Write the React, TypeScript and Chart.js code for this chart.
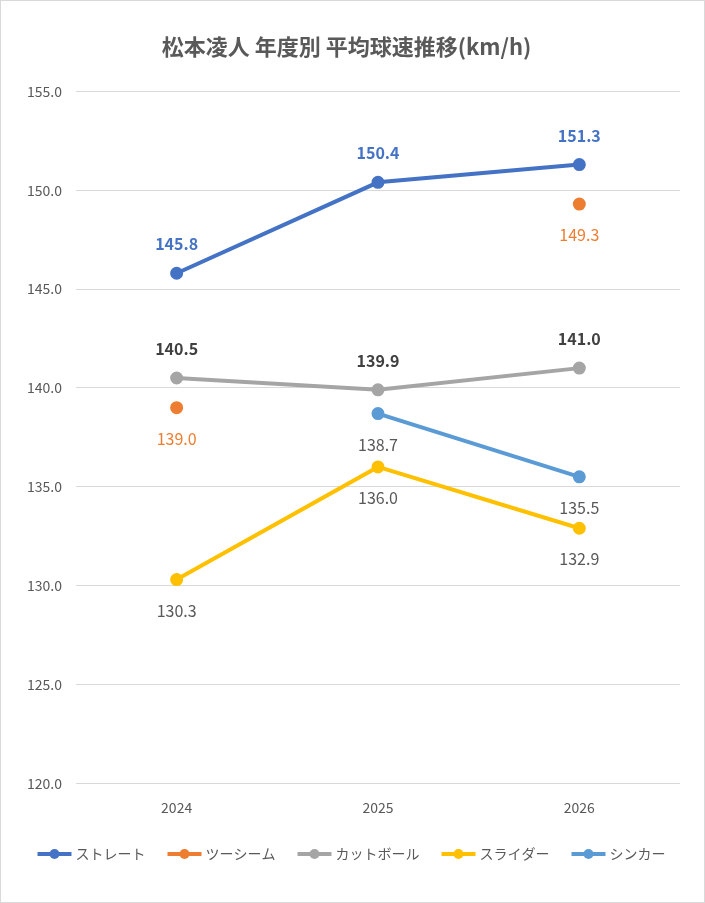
import React, { useEffect, useRef } from "react";
import { Chart, registerables } from "chart.js";
Chart.register(...registerables);

const years = ["2024", "2025", "2026"];
const straight = [145.8, 150.4, 151.3];
const twoSeam = [139.0, null, 149.3];
const cutter = [140.5, 139.9, 141.0];
const slider = [130.3, 136.0, 132.9];
const sinker = [null, 138.7, 135.5];
const seriesNames = ["ストレート", "ツーシーム", "カットボール", "スライダー", "シンカー"];
const colors = ["#4472C4", "#ED7D31", "#A5A5A5", "#FFC000", "#5B9BD5"];
const labelColors = ["#4472C4", "#ED7D31", "#404040", "#595959", "#595959"];
const labelBold = [true, false, true, false, false];
const labelAbove = [true, false, true, false, false];
const FONT = "'Noto Sans CJK JP', 'Noto Sans', sans-serif";

const labelPlugin = {
  id: "labels",
  afterDatasetsDraw(chart: any) {
    const ctx = chart.ctx;
    chart.data.datasets.forEach((ds: any, i: number) => {
      const meta = chart.getDatasetMeta(i);
      meta.data.forEach((pt: any, j: number) => {
        const v = ds.data[j];
        if (v == null) return;
        ctx.save();
        ctx.font = `${labelBold[i] ? "bold " : ""}16px ${FONT}`;
        ctx.fillStyle = labelColors[i];
        ctx.textAlign = "center";
        ctx.textBaseline = "middle";
        ctx.fillText(v.toFixed(1), pt.x, pt.y + (labelAbove[i] ? -29 : 31));
        ctx.restore();
      });
    });
  },
};

const legendPlugin = {
  id: "customLegend",
  afterDraw(chart: any) {
    const ctx = chart.ctx;
    ctx.save();
    ctx.font = `14px ${FONT}`;
    const widths = seriesNames.map((n) => 40 + ctx.measureText(n).width);
    const gap = 20;
    const total = widths.reduce((a, b) => a + b, 0) + gap * (widths.length - 1);
    let x = (chart.width - total) / 2;
    const y = 853;
    seriesNames.forEach((n, i) => {
      ctx.strokeStyle = colors[i];
      ctx.lineWidth = 4;
      ctx.beginPath();
      ctx.moveTo(x, y);
      ctx.lineTo(x + 34, y);
      ctx.stroke();
      ctx.fillStyle = colors[i];
      ctx.beginPath();
      ctx.arc(x + 17, y, 5, 0, Math.PI * 2);
      ctx.fill();
      ctx.fillStyle = "#595959";
      ctx.textBaseline = "middle";
      ctx.textAlign = "left";
      ctx.fillText(n, x + 38, y);
      x += widths[i] + gap;
    });
    ctx.restore();
  },
};

export default function App() {
  const ref = useRef<HTMLCanvasElement>(null);
  useEffect(() => {
    document.body.style.margin = "0";
    const data = [straight, twoSeam, cutter, slider, sinker];
    const chart = new Chart(ref.current!, {
      type: "line",
      data: {
        labels: years,
        datasets: data.map((d, i) => ({
          label: seriesNames[i],
          data: d as any,
          borderColor: colors[i],
          backgroundColor: colors[i],
          borderWidth: 4,
          pointRadius: 4.5,
          pointHoverRadius: 4.5,
          showLine: i !== 1,
          spanGaps: false,
        })),
      },
      options: {
        animation: false,
        responsive: false,
        layout: { padding: { top: 10, right: 24, bottom: 78, left: 12 } },
        plugins: {
          legend: { display: false },
          tooltip: { enabled: false },
          title: {
            display: true,
            text: "松本凌人 年度別 平均球速推移(km/h)",
            color: "#595959",
            font: { family: FONT, size: 22, weight: "bold" },
            padding: { top: 22, bottom: 32 },
          },
        },
        scales: {
          x: {
            offset: true,
            grid: { display: false },
            border: { display: false },
            ticks: { color: "#595959", font: { family: FONT, size: 14 }, padding: 8 },
          },
          y: {
            min: 120,
            max: 155,
            grid: { color: "#d9d9d9", drawTicks: false },
            border: { display: false },
            ticks: {
              stepSize: 5,
              color: "#595959",
              font: { family: FONT, size: 14 },
              padding: 14,
              callback: (v: any) => Number(v).toFixed(1),
            },
          },
        },
      },
      plugins: [labelPlugin, legendPlugin],
    });
    return () => chart.destroy();
  }, []);
  return (
    <div style={{ width: 705, height: 903, boxSizing: "border-box", border: "1px solid #d9d9d9", background: "#fff" }}>
      <canvas ref={ref} width={703} height={901} />
    </div>
  );
}
